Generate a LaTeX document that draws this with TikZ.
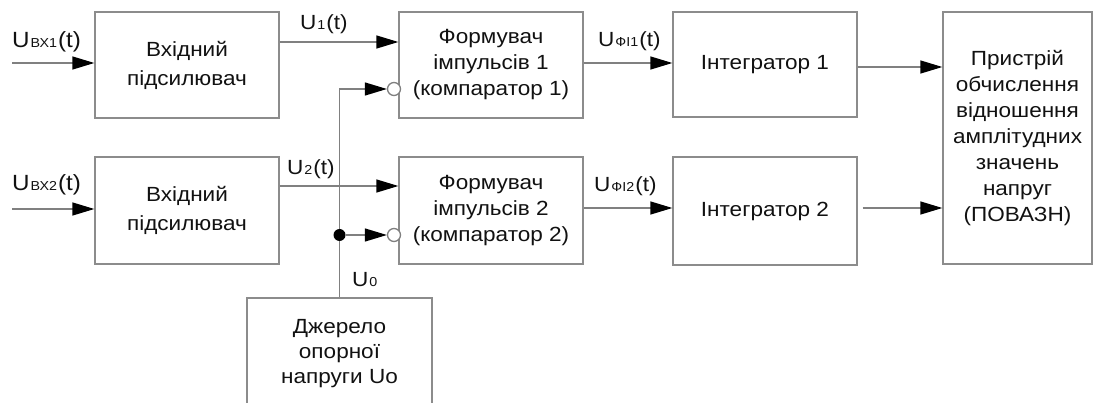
\documentclass[tikz,border=0pt]{standalone}
\usepackage{fontspec}
\setmainfont{Liberation Sans}[FakeStretch=1.1]
\usetikzlibrary{arrows.meta}
\definecolor{textcol}{HTML}{111111}
\definecolor{linegray}{HTML}{808080}
\definecolor{boxgray}{HTML}{8C8C8C}
\newcommand{\sbs}[1]{{\fontsize{13}{13}\selectfont\kern1pt #1\kern1pt}}
\begin{document}
\begin{tikzpicture}[x=1pt,y=-1pt,
  blk/.style={draw=boxgray, line width=1.3pt, inner sep=0pt, align=center, text=textcol, font=\fontsize{20.5}{27}\selectfont},
  wire/.style={draw=linegray, line width=1.3pt},
  arr/.style={wire, -{Triangle[length=22pt,width=13pt,color=black]}},
  lbl/.style={text=textcol, font=\fontsize{20.5}{25}\selectfont, inner sep=0pt, anchor=base west},
  inv/.style={circle, draw=linegray, fill=white, line width=1.3pt, minimum size=13pt, inner sep=0pt},
  jdot/.style={circle, fill=black, minimum size=12pt, inner sep=0pt}
]
\useasboundingbox (0,0) rectangle (1096,403);
\clip (0,0) rectangle (1096,403);

% blocks
\node[blk, minimum width=184pt, minimum height=106pt, font=\fontsize{20.5}{29}\selectfont] (A) at (187,65) {Вхідний\\підсилювач};
\node[blk, minimum width=184pt, minimum height=107pt, font=\fontsize{20.5}{29}\selectfont] (B) at (187,210.5) {Вхідний\\підсилювач};
\node[blk, minimum width=184pt, minimum height=106pt, font=\fontsize{20.5}{26}\selectfont] (C) at (491,65) {Формувач\\імпульсів 1\\(компаратор 1)};
\node[blk, minimum width=184pt, minimum height=107pt, font=\fontsize{20.5}{26}\selectfont] (D) at (491,210.5) {Формувач\\імпульсів 2\\(компаратор 2)};
\node[blk, minimum width=184pt, minimum height=105pt] (E) at (765,64.5) {Інтегратор 1};
\node[blk, minimum width=184pt, minimum height=108pt] (F) at (765,211) {Інтегратор 2};
\node[blk, minimum width=149pt, minimum height=252pt, font=\fontsize{20.5}{26}\selectfont] (G) at (1017.5,138) {Пристрій\\обчислення\\відношення\\амплітудних\\значень\\напруг\\(ПОВАЗН)};
\node[blk, minimum width=185pt, minimum height=112pt, font=\fontsize{20.5}{25}\selectfont] (H) at (339.5,354) {Джерело\\опорної\\напруги Uo};

% helper levels
\coordinate (in1) at (12,63);
\coordinate (in2) at (12,209);
\coordinate (y42) at (0,42);
\coordinate (y63) at (0,63);
\coordinate (y67) at (0,67);
\coordinate (y186) at (0,186);
\coordinate (y208) at (0,208);

% inverting input circles
\node[inv] (c1) at (394,89) {};
\node[inv] (c2) at (394,235) {};

% inputs
\draw[arr] (in1) -- (in1 -| A.west);
\draw[arr] (in2) -- (in2 -| B.west);

% signal paths
\draw[arr] (A.east |- y42) -- (C.west |- y42);
\draw[arr] (B.east |- y186) -- (D.west |- y186);
\draw[arr] (C.east |- y63) -- (E.west |- y63);
\draw[arr] (D.east |- y208) -- (F.west |- y208);
\draw[arr] (E.east |- y67) -- (G.west |- y67);
\draw[arr] ([xshift=5pt]F.east |- y208) -- (G.west |- y208);

% reference voltage
\draw[arr] (H.north) |- (c1.west);
\node[jdot] (j) at (H.north |- c2) {};
\draw[arr] (j) -- (c2.west);

% labels
\node[lbl, font=\fontsize{22}{25}\selectfont] (l1) at (12,48) {U\sbs{ВХ1}(t)};
\node[lbl, font=\fontsize{22}{25}\selectfont] (l2) at (12,191) {U\sbs{ВХ2}(t)};
\node[lbl] (l3) at (300,30) {U\sbs{1}(t)};
\node[lbl] (l4) at (287,175) {U\sbs{2}(t)};
\node[lbl] (l5) at (598,47) {U\sbs{ФІ1}(t)};
\node[lbl] (l6) at (594,192) {U\sbs{ФІ2}(t)};
\node[lbl] (l7) at (352,287) {U\sbs{0}};
\end{tikzpicture}
\end{document}
